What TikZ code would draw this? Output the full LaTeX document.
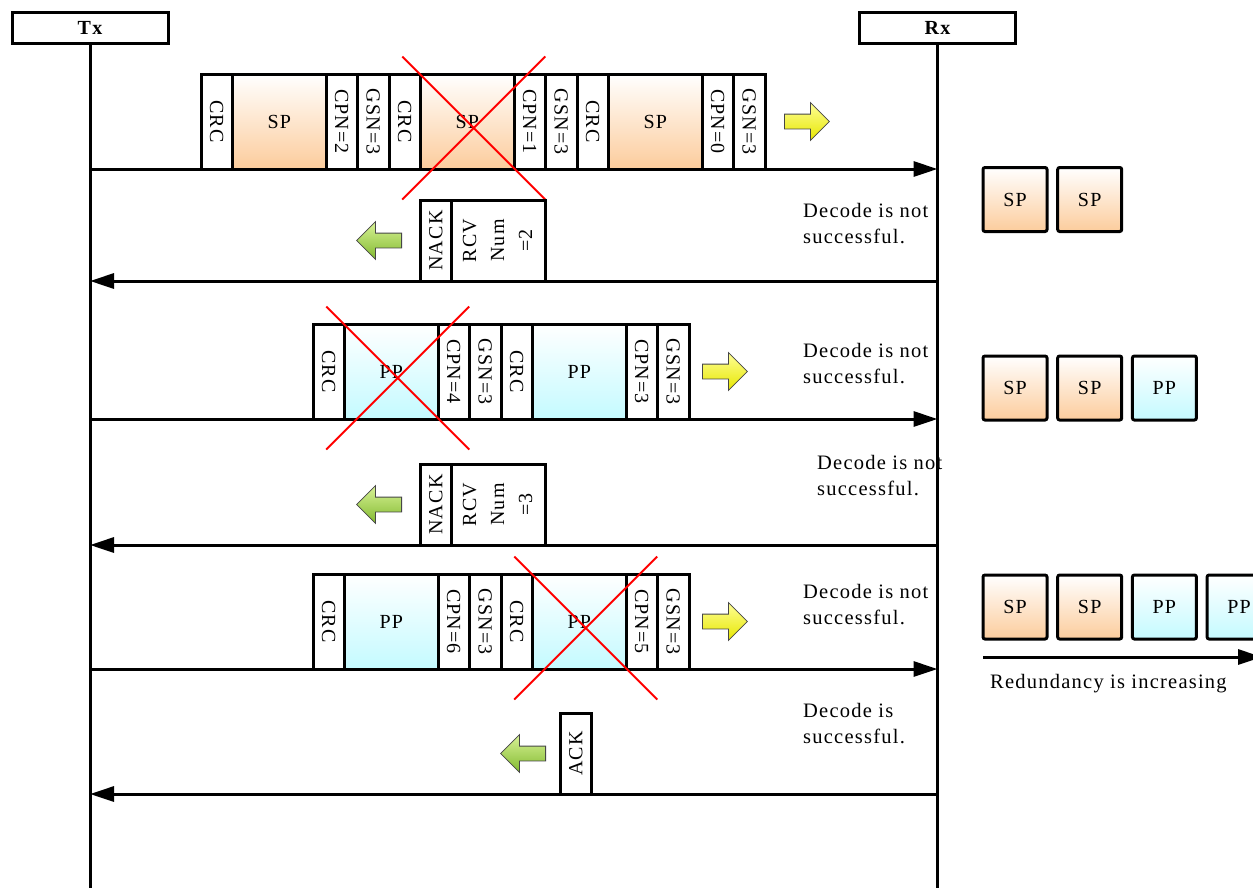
\documentclass[tikz,border=0pt]{standalone}
\usepackage{graphicx}
\usepackage{fontspec}
\setmainfont{Liberation Serif}[LetterSpace=6]
\usepackage{tikz}
\usetikzlibrary{arrows.meta,positioning,calc,shapes.arrows}
\definecolor{spbot}{RGB}{252,204,156}
\definecolor{ppbot}{RGB}{196,250,255}
\definecolor{ylwtop}{RGB}{255,255,150}
\definecolor{ylwbot}{RGB}{230,230,0}
\definecolor{grntop}{RGB}{216,242,150}
\definecolor{grnbot}{RGB}{130,186,48}
\definecolor{edgegrey}{RGB}{70,70,70}
\tikzset{
  ent/.style={draw,line width=3pt,minimum width=156pt,minimum height=31pt,
              inner sep=0pt,font=\fontsize{20}{24}\selectfont\bfseries},
  life/.style={line width=3pt},
  msg/.style={line width=3pt,-{Triangle[length=24pt,width=15pt]}},
  cell/.style={draw,line width=3pt,outer sep=0pt,inner sep=0pt,
               minimum height=95pt,font=\fontsize{20}{28}\selectfont},
  fld/.style={cell,fill=white,minimum width=31.5pt},
  sp/.style={cell,top color=white,bottom color=spbot,minimum width=93.5pt},
  pp/.style={cell,top color=white,bottom color=ppbot,minimum width=93.5pt},
  ack/.style={cell,fill=white,minimum height=81pt,minimum width=31.5pt},
  ackw/.style={ack,minimum width=94pt},
  xmark/.style={draw=red,line width=2pt},
  blkarr/.style={single arrow,draw=edgegrey,line width=0.8pt,inner sep=0pt,
                 inner ysep=7pt,minimum height=45pt,single arrow head extend=11.5pt},
  fwd/.style={blkarr,top color=ylwtop,bottom color=ylwbot},
  bwd/.style={blkarr,shape border rotate=180,top color=grntop,bottom color=grnbot},
  note/.style={anchor=north west,inner sep=0pt,align=left,
               font=\fontsize{20.5}{26}\selectfont},
  buf/.style={draw,line width=3pt,rounded corners=2pt,minimum size=64pt,
              inner sep=0pt,font=\fontsize{20}{24}\selectfont},
  bufs/.style={buf,top color=white,bottom color=spbot},
  bufp/.style={buf,top color=white,bottom color=ppbot},
}
\newcommand{\rotdn}[1]{\rotatebox{-90}{#1}}
\newcommand{\rotup}[1]{\rotatebox{90}{#1}}

\begin{document}
\begin{tikzpicture}[x=1pt,y=-1pt]
  \useasboundingbox (0,0) rectangle (1253,887);
  \clip (0,0) rectangle (1253,887);
  \fill[white] (0,0) rectangle (1253,887);

  % --- entities and lifelines ---------------------------------------------
  \node[ent] (tx) at (90,27.5)    {Tx};
  \node[ent] (rx) at (937.5,27.5) {Rx};
  \coordinate (txend) at (tx.south |- 0,890);
  \coordinate (rxend) at (rx.south |- 0,890);
  \draw[life] (tx.south) -- (txend);
  \draw[life] (rx.south) -- (rxend);

  % message rows
  \coordinate (m1) at (0,169);
  \coordinate (m2) at (0,281);
  \coordinate (m3) at (0,419);
  \coordinate (m4) at (0,545);
  \coordinate (m5) at (0,669);
  \coordinate (m6) at (0,794);

  % --- first transmission: three SP ----------------------------------------
  \foreach \kind/\ctxt [count=\i,remember=\i as \j (initially 0)] in
      {fld/\rotdn{CRC},sp/SP,fld/\rotdn{CPN=2},fld/\rotdn{GSN=3},
       fld/\rotdn{CRC},sp/SP,fld/\rotdn{CPN=1},fld/\rotdn{GSN=3},
       fld/\rotdn{CRC},sp/SP,fld/\rotdn{CPN=0},fld/\rotdn{GSN=3}}
  {
    \ifnum\i=1
      \node[\kind,anchor=south west] (a\i) at (201,169) {\ctxt};
    \else
      \node[\kind,right=0pt of a\j] (a\i) {\ctxt};
    \fi
  }
  \draw[msg] (tx |- m1) -- (rx |- m1);
  \node[fwd,right=19pt of a12] (y1) {};
  \draw[xmark] ($(a6.center)+(6.5,6.5)$) +(-71.5,-71.5) -- +(71.5,71.5)
                                         +(-71.5,71.5) -- +(71.5,-71.5);
  \node[note] (d1) at (803,203) {Decode is not\\successful.};

  % --- first NACK ----------------------------------------------------------
  \node[ack,anchor=south west] (n1a) at (420,281) {\rotup{NACK}};
  \node[ackw,right=0pt of n1a] (n1b)
        {\rotup{\begin{tabular}{@{}c@{}}RCV\\Num\\=2\end{tabular}}};
  \draw[msg] (rx |- m2) -- (tx |- m2);
  \node[bwd,left=18pt of n1a] (g1) {};

  % --- second transmission: two PP -----------------------------------------
  \foreach \kind/\ctxt [count=\i,remember=\i as \j (initially 0)] in
      {fld/\rotdn{CRC},pp/PP,fld/\rotdn{CPN=4},fld/\rotdn{GSN=3},
       fld/\rotdn{CRC},pp/PP,fld/\rotdn{CPN=3},fld/\rotdn{GSN=3}}
  {
    \ifnum\i=1
      \node[\kind,anchor=south west] (b\i) at (313,419) {\ctxt};
    \else
      \node[\kind,right=0pt of b\j] (b\i) {\ctxt};
    \fi
  }
  \draw[msg] (tx |- m3) -- (rx |- m3);
  \node[fwd,right=13pt of b8] (y2) {};
  \draw[xmark] ($(b2.center)+(6.5,6.5)$) +(-71.5,-71.5) -- +(71.5,71.5)
                                         +(-71.5,71.5) -- +(71.5,-71.5);
  \node[note] (d2) at (803,343) {Decode is not\\successful.};

  % --- second NACK ---------------------------------------------------------
  \node[ack,anchor=south west] (n2a) at (420,545) {\rotup{NACK}};
  \node[ackw,right=0pt of n2a] (n2b)
        {\rotup{\begin{tabular}{@{}c@{}}RCV\\Num\\=3\end{tabular}}};
  \draw[msg] (rx |- m4) -- (tx |- m4);
  \node[bwd,left=18pt of n2a] (g2) {};
  \node[note] (d3) at (817,455) {Decode is not\\successful.};

  % --- third transmission: two PP ------------------------------------------
  \foreach \kind/\ctxt [count=\i,remember=\i as \j (initially 0)] in
      {fld/\rotdn{CRC},pp/PP,fld/\rotdn{CPN=6},fld/\rotdn{GSN=3},
       fld/\rotdn{CRC},pp/PP,fld/\rotdn{CPN=5},fld/\rotdn{GSN=3}}
  {
    \ifnum\i=1
      \node[\kind,anchor=south west] (c\i) at (313,669) {\ctxt};
    \else
      \node[\kind,right=0pt of c\j] (c\i) {\ctxt};
    \fi
  }
  \draw[msg] (tx |- m5) -- (rx |- m5);
  \node[fwd,right=13pt of c8] (y3) {};
  \draw[xmark] ($(c6.center)+(6.5,6.5)$) +(-71.5,-71.5) -- +(71.5,71.5)
                                         +(-71.5,71.5) -- +(71.5,-71.5);
  \node[note] (d4) at (803,584) {Decode is not\\successful.};

  % --- ACK -----------------------------------------------------------------
  \node[ack,anchor=south west] (k1) at (560,794) {\rotup{ACK}};
  \draw[msg] (rx |- m6) -- (tx |- m6);
  \node[bwd,left=14pt of k1] (g3) {};
  \node[note] (d5) at (803,703) {Decode is\\successful.};

  % --- receiver buffer -----------------------------------------------------
  \foreach \kind/\ctxt [count=\i] in {bufs/SP,bufs/SP}
    \node[\kind] (r1\i) at ({1015+74.7*(\i-1)},199.5) {\ctxt};
  \foreach \kind/\ctxt [count=\i] in {bufs/SP,bufs/SP,bufp/PP}
    \node[\kind] (r2\i) at ({1015+74.7*(\i-1)},388) {\ctxt};
  \foreach \kind/\ctxt [count=\i] in {bufs/SP,bufs/SP,bufp/PP,bufp/PP}
    \node[\kind] (r3\i) at ({1015+74.7*(\i-1)},607) {\ctxt};

  \coordinate (rs) at (983,657);
  \coordinate (re) at (1262,657);
  \draw[msg] (rs) -- (re);
  \node[anchor=base west,inner sep=0pt,font=\fontsize{20.5}{26}\selectfont]
        (rtxt) at (990,688) {Redundancy is increasing};

\end{tikzpicture}
\end{document}
